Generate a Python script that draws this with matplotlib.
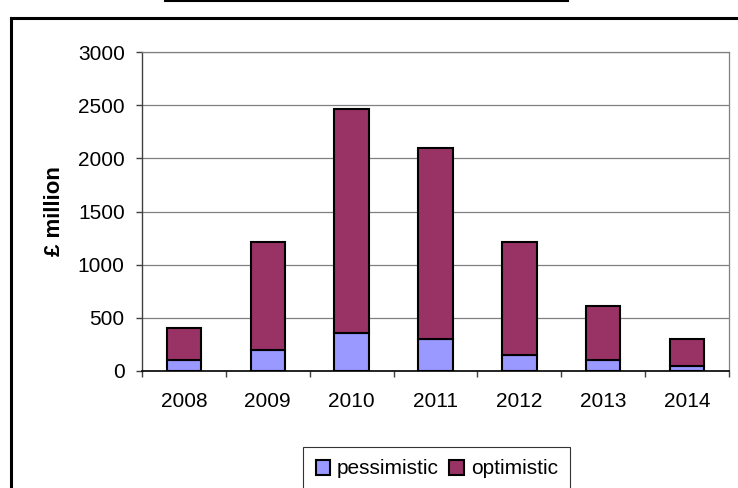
import matplotlib.pyplot as plt
import numpy as np
from matplotlib.lines import Line2D

plt.rcParams['font.family'] = ['Liberation Sans', 'DejaVu Sans']

# data
years = ['2008', '2009', '2010', '2011', '2012', '2013', '2014']
pessimistic = [100, 200, 360, 300, 150, 100, 50]
optimistic = [300, 1010, 2100, 1800, 1060, 510, 250]   # stacked on top of pessimistic
y_ticks = [0, 500, 1000, 1500, 2000, 2500, 3000]

fig = plt.figure(figsize=(7.38, 4.88), dpi=100)
W, H = 738, 488
ax = fig.add_axes([142 / W, 1 - 371 / H, 587 / W, 319 / H])

x = np.arange(len(years))
ax.bar(x, pessimistic, width=0.41, color='#9999FF', edgecolor='black',
       linewidth=1.5, label='pessimistic', zorder=3)
ax.bar(x, optimistic, width=0.41, bottom=pessimistic, color='#993366',
       edgecolor='black', linewidth=1.5, label='optimistic', zorder=3)

ax.set_xlim(-0.5, len(years) - 0.5)
ax.set_ylim(0, 3000)
ax.set_yticks(y_ticks)
ax.set_xticks(x)
ax.set_xticklabels(years)
ax.set_xticks(np.arange(len(years) + 1) - 0.5, minor=True)
ax.tick_params(axis='x', which='major', length=0, pad=15, labelsize=15)
ax.tick_params(axis='x', which='minor', length=4, width=1, color='#404040', direction='out')
ax.tick_params(axis='y', length=4.5, width=1, color='#404040', pad=8, labelsize=15)

ax.grid(axis='y', color='#808080', linewidth=0.9, zorder=0)
ax.set_axisbelow(True)
for side in ['top', 'right']:
    ax.spines[side].set_color('#808080')
    ax.spines[side].set_linewidth(0.9)
ax.spines['left'].set_color('#404040')
ax.spines['left'].set_linewidth(1.0)
ax.spines['bottom'].set_color('black')
ax.spines['bottom'].set_linewidth(1.2)

ax.set_ylabel('£ million', fontsize=16, fontweight='bold')
ax.yaxis.set_label_coords(-0.132, 0.5)

# outer chart border (cut off at right and bottom) and title underline
fig.add_artist(Line2D([10.5 / W, 10.5 / W], [0, 1 - 18 / H], transform=fig.transFigure,
                      color='black', linewidth=2.2))
fig.add_artist(Line2D([10.5 / W, 1], [1 - 18 / H, 1 - 18 / H], transform=fig.transFigure,
                      color='black', linewidth=2.2))
fig.add_artist(Line2D([165 / W, 568 / W], [1 - 1 / H, 1 - 1 / H], transform=fig.transFigure,
                      color='black', linewidth=1.5))

leg = fig.legend(loc='upper left', bbox_to_anchor=(303 / W, 1 - 447 / H), ncol=2,
                 fontsize=15, frameon=True, fancybox=False, shadow=False,
                 handlelength=0.7, handleheight=0.7, handletextpad=0.33,
                 columnspacing=0.5, borderpad=0.6, borderaxespad=0)
leg.get_frame().set_edgecolor('black')
leg.get_frame().set_linewidth(0.8)

fig.savefig('out.png', dpi=100)
